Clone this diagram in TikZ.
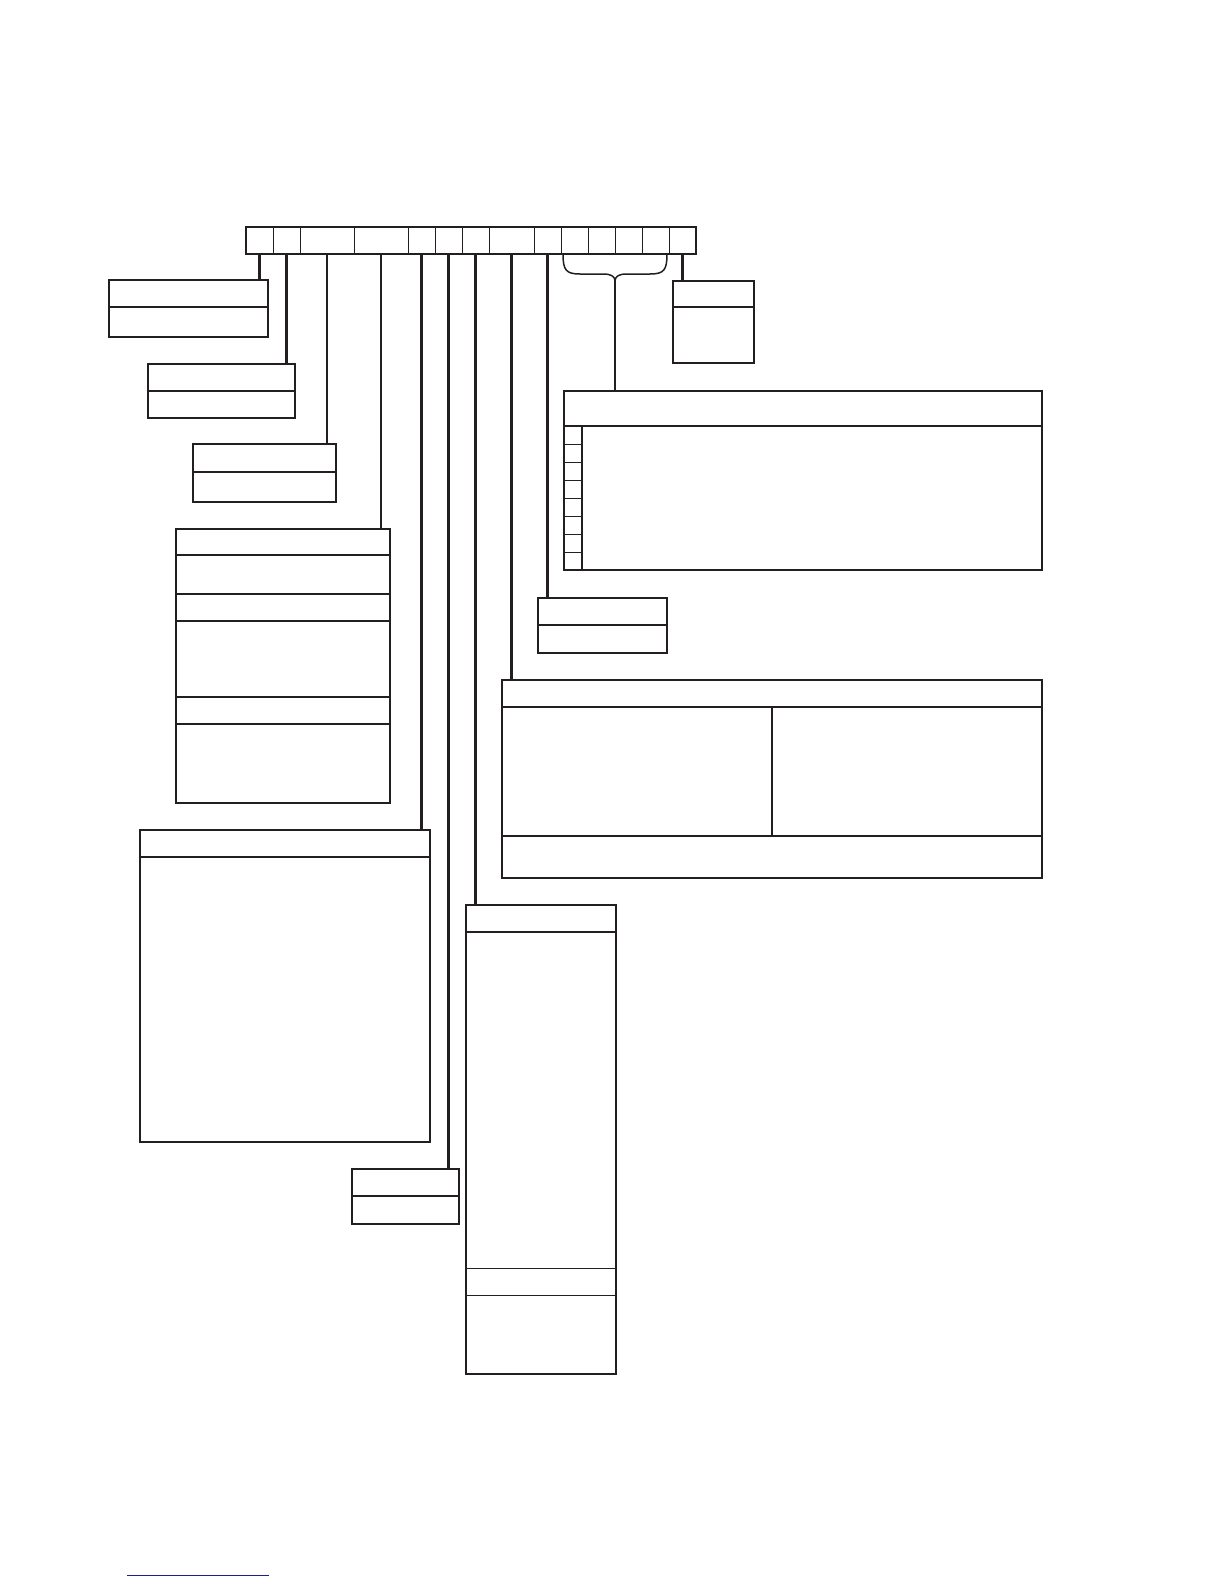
\documentclass[tikz,border=0pt]{standalone}
\usepackage{tikz}

\definecolor{ink}{RGB}{35,31,32}
\definecolor{linkblue}{RGB}{30,30,140}

\tikzset{
  cell/.style={draw, line width=0.8pt, minimum height=27pt, inner sep=0pt, outer sep=0pt, anchor=north west},
  part/.style={draw, line width=2pt, inner sep=0pt, outer sep=0pt, anchor=north west},
  row/.style={draw, line width=1pt, inner sep=0pt, outer sep=0pt, anchor=north west},
  link/.style={line width=2.6pt},
  thinlink/.style={line width=1.2pt}
}

\begin{document}
\begin{tikzpicture}[x=1pt, y=-1pt, color=ink]

        \useasboundingbox (0,0) rectangle (1224,1584);

        % register
        \foreach \x/\w [count=\i] in {246/27, 273/27, 300/54, 354/54, 408/27, 435/27, 462/27,
                                      489/45, 534/27, 561/27, 588/27, 615/27, 642/27, 669/27}
          \node[cell, minimum width=\w pt] (r\i) at (\x,227) {};
        \draw[line width=1.8pt] (r1.north west) rectangle (r14.south east);

        \begin{scope}[every node/.style={part}]
          % small boxes
          \node[minimum width=159pt, minimum height=27pt] (A1) at (109,280) {};
          \node[minimum width=159pt, minimum height=30pt] (A2) at (109,307) {};

          \node[minimum width=147pt, minimum height=27pt] (B1) at (148,364) {};
          \node[minimum width=147pt, minimum height=27pt] (B2) at (148,391) {};

          \node[minimum width=143pt, minimum height=28pt] (C1) at (193,444) {};
          \node[minimum width=143pt, minimum height=30pt] (C2) at (193,472) {};

          \node[minimum width=81pt, minimum height=26pt] (K1) at (673,281) {};
          \node[minimum width=81pt, minimum height=56pt] (K2) at (673,307) {};

          \node[minimum width=129pt, minimum height=27pt] (H1) at (538,598) {};
          \node[minimum width=129pt, minimum height=28pt] (H2) at (538,625) {};

          \node[minimum width=107pt, minimum height=27pt] (F1) at (352,1169) {};
          \node[minimum width=107pt, minimum height=28pt] (F2) at (352,1196) {};

          % tall boxes
          \foreach \t/\b [count=\i] in {529/555, 555/594, 594/621, 621/697, 697/724, 724/803}
            \node[minimum width=214pt, minimum height=\b pt-\t pt] (D\i) at (176,\t) {};

          \node[minimum width=290pt, minimum height=27pt] (E1) at (140,830) {};
          \node[minimum width=290pt, minimum height=285pt] (E2) at (140,857) {};

          \node[minimum width=150pt, minimum height=27pt] (G1) at (466,905) {};
          \node[minimum width=150pt, minimum height=442pt] (G2) at (466,932) {};

          % wide boxes
          \node[minimum width=540pt, minimum height=27pt] (I1) at (502,680) {};
          \node[minimum width=270pt, minimum height=129pt] (I2) at (502,707) {};
          \node[minimum width=270pt, minimum height=129pt] (I3) at (772,707) {};
          \node[minimum width=540pt, minimum height=42pt] (I4) at (502,836) {};

          \node[minimum width=478pt, minimum height=35pt] (J1) at (564,391) {};
          \node[minimum width=478pt, minimum height=144pt] (J2) at (564,426) {};
        \end{scope}

        \node[row, minimum width=150pt, minimum height=27pt] (G3) at (466,1268) {};

        \foreach \i in {1,...,8}
          \node[row, minimum width=18pt, minimum height=18pt] (J\i c) at (564,408+18*\i) {};
        \draw[line width=2.2pt] (J1c.north east) -- (J8c.south east);

        % brace over the flag bits
        \coordinate (tip) at (615,280);
        \draw[line width=1.5pt] (563,254) .. controls (563,270) and (566,274) .. (580,274)
          -- (603,274) .. controls (611,274) and (614,276) .. (tip)
          .. controls (616,276) and (619,274) .. (627,274)
          -- (650,274) .. controls (664,274) and (667,270) .. (667,254);

        \begin{scope}[every edge/.style={draw, link}]
          \path (r1.south)  edge (r1.south |- A1.north);
          \path (r2.south)  edge (r2.south |- B1.north);
          \path (r3.south)  edge[thinlink] (r3.south |- C1.north);
          \path (r4.south)  edge[thinlink] (r4.south |- D1.north);
          \path (r5.south)  edge (r5.south |- E1.north);
          \path (r6.south)  edge (r6.south |- F1.north);
          \path (r7.south)  edge (r7.south |- G1.north);
          \path (r8.south)  edge (r8.south |- I1.north);
          \path (r9.south)  edge (r9.south |- H1.north);
          \path (r14.south) edge (r14.south |- K1.north);
          \path (tip)       edge (tip |- J1.north);
        \end{scope}

        \draw[linkblue, line width=1pt] (127,1575) -- (269,1575);

      \end{tikzpicture}
\end{document}
